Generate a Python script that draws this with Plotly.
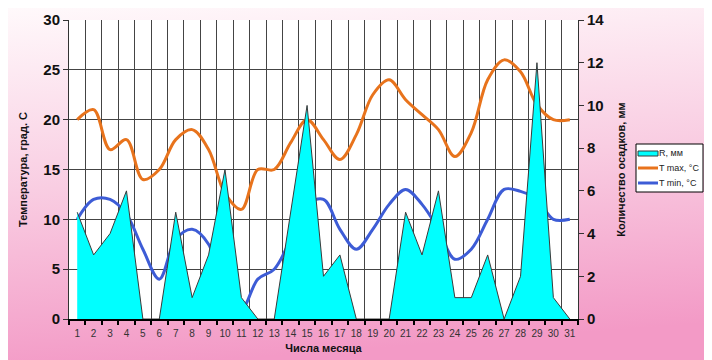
import base64
import plotly.graph_objects as go

days = list(range(1, 32))

# осадки, мм (правая ось)
rain = [5, 3, 4, 6, 0, 0, 5, 1, 3, 7, 1, 0, 0, 5, 10, 2, 3, 0, 0, 0,
        5, 3, 6, 1, 1, 3, 0, 2, 12, 1, 0]

# температуры, °C (левая ось)
t_max = [20, 21, 17, 18, 14, 15, 18, 19, 17, 12.6, 11, 15, 15, 17.7, 20, 18,
         16, 18.5, 22.5, 24, 22, 20.5, 19, 16.3, 18.7, 24, 26, 24.8, 21.5, 20, 20]
t_min = [10, 12, 12, 10.5, 7, 4, 8, 9, 7.5, 2.5, 1, 4, 5, 8, 11.5, 12,
         9, 7, 9, 11.5, 13, 11.5, 9, 6, 7, 10, 13, 12.8, 12, 10, 10]

names = ["R, мм", "T max, °C", "T min, °C"]
colors = ["#00FFFF", "#E8731C", "#3D5CD6"]

FONT = "Arial, Liberation Sans, sans-serif"

fig = go.Figure()
fig.add_trace(go.Scatter(
    x=days, y=rain, name=names[0], yaxis="y2", mode="lines",
    fill="tozeroy", fillcolor=colors[0],
    line=dict(color="#3a3a3a", width=1),
))
fig.add_trace(go.Scatter(
    x=days, y=t_max, name=names[1], mode="lines",
    line=dict(color=colors[1], width=3, shape="spline", smoothing=1),
))
fig.add_trace(go.Scatter(
    x=days, y=t_min, name=names[2], mode="lines",
    line=dict(color=colors[2], width=3, shape="spline", smoothing=1),
))

# розовый градиентный фон
svg = ('<svg xmlns="http://www.w3.org/2000/svg" width="712" height="360">'
       '<defs><linearGradient id="g" x1="0" y1="0" x2="0.15" y2="1">'
       '<stop offset="0" stop-color="#fff9fb"/>'
       '<stop offset="0.5" stop-color="#f9cde2"/>'
       '<stop offset="1" stop-color="#f39ac6"/>'
       '</linearGradient></defs>'
       '<rect width="712" height="360" fill="url(#g)"/></svg>')
bg = "data:image/svg+xml;base64," + base64.b64encode(svg.encode()).decode()

# страница сдвигает рисунок на 8px (отступ body), учитываем это
OFF = 8
# область построения в пикселях окна
L, T, PW, PH = 69, 20, 509, 299
def px(x):
    return (x - L) / PW
def py(y):
    return (T + PH - y) / PH

fig.add_layout_image(
    source=bg, xref="paper", yref="paper",
    x=px(OFF), y=py(OFF), sizex=712 / PW, sizey=360 / PH,
    xanchor="left", yanchor="top", sizing="stretch", layer="below",
)
fig.add_shape(type="rect", xref="paper", yref="paper", x0=0, x1=1, y0=0, y1=1,
              fillcolor="white", line_width=0, layer="below")

# легенда в стиле Excel
fig.add_shape(type="rect", xref="paper", yref="paper",
              x0=px(636), x1=px(703), y0=py(192), y1=py(144),
              fillcolor="white", line=dict(color="black", width=1))
rows = [153, 168, 183]
fig.add_shape(type="rect", xref="paper", yref="paper",
              x0=px(638), x1=px(658), y0=py(156), y1=py(151),
              fillcolor=colors[0], line=dict(color="#3a3a3a", width=1))
for i in (1, 2):
    fig.add_shape(type="line", xref="paper", yref="paper",
                  x0=px(638), x1=px(658), y0=py(rows[i]), y1=py(rows[i]),
                  line=dict(color=colors[i], width=3))
for i in range(3):
    fig.add_annotation(xref="paper", yref="paper", x=px(658), y=py(rows[i]),
                       text=names[i], showarrow=False, xanchor="left",
                       yanchor="middle", borderpad=0,
                       font=dict(size=9, color="#222"))

fig.update_layout(
    width=712, height=360,
    margin=dict(l=L - OFF, r=712 - (L - OFF) - PW, t=T - OFF,
                b=360 - (T - OFF) - PH, autoexpand=False),
    paper_bgcolor="#f9cde2",
    plot_bgcolor="rgba(0,0,0,0)",
    font=dict(family=FONT, color="#111"),
    showlegend=False,
    xaxis=dict(
        range=[0.5, 31.5], tick0=1, dtick=1, ticks="",
        tickfont=dict(size=10, color="#333"), ticklabelstandoff=4,
        showgrid=False, zeroline=False,
        showline=True, linecolor="black", linewidth=2,
        minor=dict(tick0=0.5, dtick=1, ticks="outside", ticklen=4,
                   tickwidth=2, tickcolor="black",
                   showgrid=True, gridcolor="#444", gridwidth=1),
        title=dict(text="Числа месяца", font=dict(size=11, weight="bold"),
                   standoff=6),
    ),
    yaxis=dict(
        range=[0, 30], dtick=5, showgrid=True, gridcolor="#444", gridwidth=1,
        zeroline=False, showline=True, linecolor="#333", linewidth=1,
        ticks="outside", ticklen=5, tickcolor="#333",
        tickfont=dict(size=15, weight="bold"),
        title=dict(text="Температура, град. С",
                   font=dict(size=11, weight="bold"), standoff=13),
    ),
    yaxis2=dict(
        overlaying="y", side="right", range=[0, 14], dtick=2,
        showgrid=False, zeroline=False, showline=True,
        linecolor="#333", linewidth=1,
        ticks="outside", ticklen=5, tickcolor="#333",
        tickfont=dict(size=15, weight="bold"),
        title=dict(text="Количество осадков, мм",
                   font=dict(size=11, weight="bold"), standoff=13),
    ),
)

fig.write_html("out.html")
